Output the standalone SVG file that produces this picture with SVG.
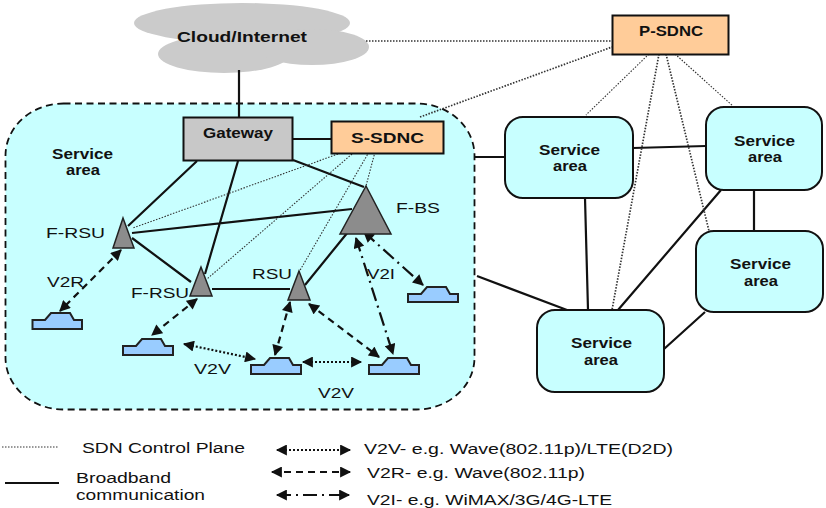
<svg xmlns="http://www.w3.org/2000/svg" width="826" height="508" viewBox="0 0 826 508">
<style>
text{font-family:"Liberation Sans",Arial,sans-serif;fill:#111}
.b{font-weight:bold;font-size:14.500px}
.l{font-size:15.500px}
.box{stroke:#111;stroke-width:2}
.sa{fill:#c8ffff;stroke:#111;stroke-width:2}
.tri{fill:#8c8c8c;stroke:#222;stroke-width:1.5}
.veh{fill:#99ccff;stroke:#222;stroke-width:2}
.wire{stroke:#111;stroke-width:2.2;fill:none}
.ctl{stroke:#333;stroke-width:1.1;stroke-dasharray:1.5 1.5;fill:none}
.ctl2{stroke:#333;stroke-width:1.7;stroke-dasharray:1.5 1.5;fill:none}
.v2r{stroke:#111;stroke-width:2.2;stroke-dasharray:7 5;fill:none;marker-start:url(#h);marker-end:url(#h)}
.v2v{stroke:#111;stroke-width:2.2;stroke-dasharray:2 2;fill:none;marker-start:url(#h);marker-end:url(#h)}
.v2i{stroke:#111;stroke-width:2.2;stroke-dasharray:14 5 2 5;fill:none;marker-start:url(#h);marker-end:url(#h)}
</style>
<defs>
<marker id="h" viewBox="0 0 10 10" refX="9" refY="5" markerUnits="userSpaceOnUse" markerWidth="12" markerHeight="11" orient="auto-start-reverse"><path d="M0 0L10 5L0 10Z" fill="#111"/></marker>
</defs>
<rect x="0" y="0" width="826" height="508" fill="#fff"/>
<g id="cloud">
<ellipse cx="242" cy="23" rx="108" ry="20" fill="#cbcbcb"/>
<ellipse cx="224" cy="54" rx="66" ry="19" fill="#cbcbcb"/>
<ellipse cx="312" cy="47" rx="57" ry="18" fill="#cbcbcb"/>
<rect x="200" y="30" width="100" height="25" fill="#cbcbcb"/>
<text class="b" x="177" y="42" textLength="130" lengthAdjust="spacingAndGlyphs">Cloud/Internet</text>
</g>
<g id="service-area-main">
<rect x="5.500" y="103.500" width="469" height="306" rx="58" ry="52" fill="#c8ffff" stroke="#111" stroke-width="1.800" stroke-dasharray="7 4.500"/>
<text class="b" x="52" y="159" textLength="61" lengthAdjust="spacingAndGlyphs">Service</text>
<text class="b" x="66" y="175" textLength="34" lengthAdjust="spacingAndGlyphs">area</text>
</g>
<g id="connectors">
<path class="wire" d="M239 70V117M293 139H331M197 161L128 226M238 161L205 274M293 160L364 187M132 233L352 209M132 238L191 282M212 289H290M305 285L348 232"/>
<path class="wire" d="M475 157H505M633 148L706 146M585 198L588 310M477 276L567 310M721 190L618 310M754 190V231M705 312L664 349"/>
<path class="ctl2" d="M366 41H612M420 117L612 47"/>
<path class="ctl2" d="M659 54L612 310M666 54L709 231"/>
<path class="ctl" d="M649 54L586 115M675 54L733 106"/>
<path class="ctl" d="M338 154L133 228M352 154L207 279M369 152L299 272M375 152L366 186"/>
<path class="v2r" d="M121 250L60 311"/>
<path class="v2r" d="M197 299L152 335"/>
<path class="v2r" d="M290 302L275 355"/>
<path class="v2r" d="M309 304L379 357"/>
<path class="v2v" d="M184 344L255 359"/>
<path class="v2v" d="M303 362L361 362"/>
<path class="v2i" d="M356 238L393 354"/>
<path class="v2i" d="M364 232L423 285"/>
</g>
<g id="gateway"><rect class="box" x="183.500" y="117.500" width="109" height="43" fill="#c8c8c8"/><text class="b" x="203" y="138" textLength="70" lengthAdjust="spacingAndGlyphs">Gateway</text></g>
<g id="s-sdnc"><rect class="box" x="331.500" y="121.500" width="112" height="32" fill="#ffcc99"/><text class="b" x="351" y="143" textLength="73" lengthAdjust="spacingAndGlyphs">S-SDNC</text></g>
<g id="p-sdnc"><rect class="box" x="612.500" y="15.500" width="116" height="39" fill="#ffcc99"/><text class="b" x="639" y="36" textLength="64" lengthAdjust="spacingAndGlyphs">P-SDNC</text></g>
<g id="f-rsu-1"><path class="tri" d="M123 218L113 248H134Z"/><text class="l" x="46" y="238" textLength="59" lengthAdjust="spacingAndGlyphs">F-RSU</text></g>
<g id="f-rsu-2"><path class="tri" d="M201 267L190 296H212Z"/><text class="l" x="131" y="298" textLength="58" lengthAdjust="spacingAndGlyphs">F-RSU</text></g>
<g id="rsu"><path class="tri" d="M299 271L288 300H310Z"/><text class="l" x="252" y="279" textLength="40" lengthAdjust="spacingAndGlyphs">RSU</text></g>
<g id="f-bs"><path class="tri" d="M366 186L340 234H391Z"/><text class="l" x="396" y="213" textLength="44" lengthAdjust="spacingAndGlyphs">F-BS</text></g>
<g id="v1"><path class="veh" d="M32.500 329V320H45L51 313H70L74 320H82V329Z"/></g>
<g id="v2"><path class="veh" d="M123 355V346H136L142 339H161L165 346H173V355Z"/></g>
<g id="v3"><path class="veh" d="M251 374V365H264L270 358H289L293 365H301V374Z"/></g>
<g id="v4"><path class="veh" d="M369 374V365H382L388 358H407L411 365H419V374Z"/></g>
<g id="v5"><path class="veh" d="M408 302V294H421L427 287H446L450 294H458V302Z"/></g>
<g id="labels">
<text class="l" x="47" y="287" textLength="37" lengthAdjust="spacingAndGlyphs">V2R</text>
<text class="l" x="367" y="279" textLength="28" lengthAdjust="spacingAndGlyphs">V2I</text>
<text class="l" x="194" y="374" textLength="37" lengthAdjust="spacingAndGlyphs">V2V</text>
<text class="l" x="318" y="398" textLength="36" lengthAdjust="spacingAndGlyphs">V2V</text>
</g>
<g id="sa-1"><rect class="sa" x="505" y="117" width="128" height="81" rx="18"/><text class="b" x="539" y="155" textLength="61" lengthAdjust="spacingAndGlyphs">Service</text><text class="b" x="553" y="171" textLength="34" lengthAdjust="spacingAndGlyphs">area</text></g>
<g id="sa-2"><rect class="sa" x="706" y="107" width="116" height="83" rx="18"/><text class="b" x="734" y="146" textLength="61" lengthAdjust="spacingAndGlyphs">Service</text><text class="b" x="748" y="162" textLength="34" lengthAdjust="spacingAndGlyphs">area</text></g>
<g id="sa-3"><rect class="sa" x="696" y="231" width="127" height="81" rx="18"/><text class="b" x="730" y="269" textLength="61" lengthAdjust="spacingAndGlyphs">Service</text><text class="b" x="744" y="286" textLength="34" lengthAdjust="spacingAndGlyphs">area</text></g>
<g id="sa-4"><rect class="sa" x="537" y="310" width="127" height="82" rx="18"/><text class="b" x="571" y="348" textLength="61" lengthAdjust="spacingAndGlyphs">Service</text><text class="b" x="584" y="365" textLength="34" lengthAdjust="spacingAndGlyphs">area</text></g>
<g id="legend">
<path class="ctl" d="M2 447H58"/>
<path class="wire" d="M5 483H59"/>
<text class="l" x="82" y="453" textLength="163" lengthAdjust="spacingAndGlyphs">SDN Control Plane</text>
<text class="l" x="76" y="483" textLength="95" lengthAdjust="spacingAndGlyphs">Broadband</text>
<text class="l" x="76" y="500" textLength="129" lengthAdjust="spacingAndGlyphs">communication</text>
<path class="v2v" d="M277 450H350"/>
<path class="v2r" d="M272 472H350"/>
<path class="v2i" d="M277 495H349"/>
<text class="l" x="364" y="454" textLength="309" lengthAdjust="spacingAndGlyphs">V2V- e.g. Wave(802.11p)/LTE(D2D)</text>
<text class="l" x="367" y="478" textLength="218" lengthAdjust="spacingAndGlyphs">V2R- e.g. Wave(802.11p)</text>
<text class="l" x="367" y="505" textLength="245" lengthAdjust="spacingAndGlyphs">V2I- e.g. WiMAX/3G/4G-LTE</text>
</g>
</svg>
